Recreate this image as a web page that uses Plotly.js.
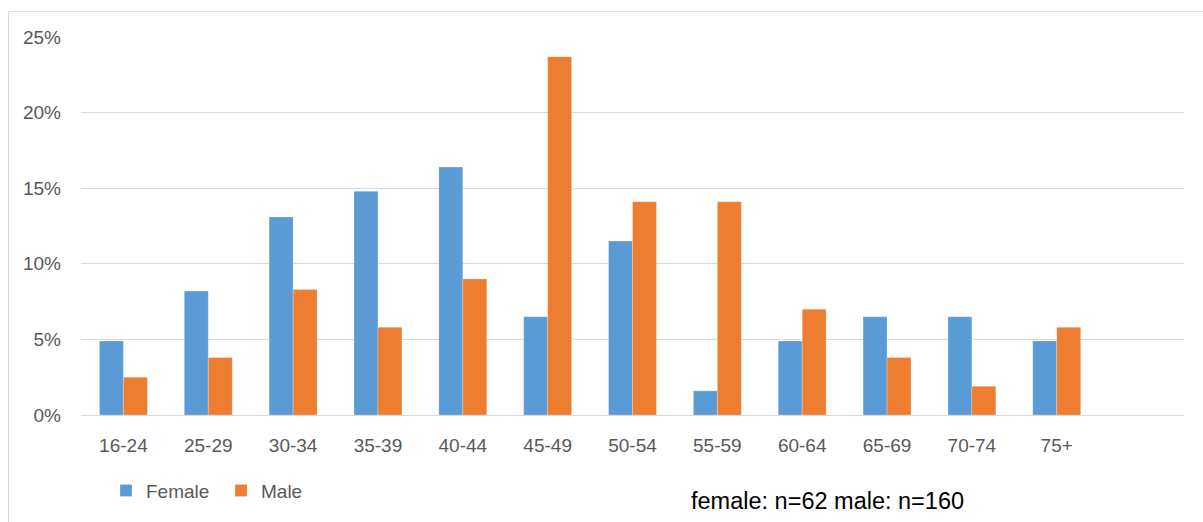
<!DOCTYPE html>
<html>
<head>
<meta charset="utf-8">
<script src="https://cdn.plot.ly/plotly-3.0.1.min.js"></script>
<style>
  html, body { margin: 0; padding: 0; background: #ffffff; }
  #chart { width: 1203px; height: 522px; }
</style>
</head>
<body>
<div id="chart"></div>
<script>
const categories = ["16-24", "25-29", "30-34", "35-39", "40-44", "45-49", "50-54", "55-59", "60-64", "65-69", "70-74", "75+"];
const femaleValues = [0.049, 0.082, 0.131, 0.148, 0.164, 0.065, 0.115, 0.016, 0.049, 0.065, 0.065, 0.049];
const maleValues   = [0.025, 0.038, 0.083, 0.058, 0.090, 0.237, 0.141, 0.141, 0.070, 0.038, 0.019, 0.058];
const yTickValues = [0, 0.05, 0.10, 0.15, 0.20, 0.25];
const noteText = "female: n=62 male: n=160";

const W = 1203, H = 522;
const M = { l: 81, r: 19, t: 37, b: 105 };
const pw = W - M.l - M.r, ph = H - M.t - M.b;
const px = x => (x - M.l) / pw;
const py = y => (H - M.b - y) / ph;

const FONT = "Liberation Sans, Arial, sans-serif";

const traces = [
  { type: "bar", name: "Female", x: categories, y: femaleValues,
    marker: { color: "#5B9BD5", line: { color: "rgba(255,255,255,0.5)", width: 0.5 } } },
  { type: "bar", name: "Male", x: categories, y: maleValues,
    marker: { color: "#ED7D31", line: { color: "rgba(255,255,255,0.5)", width: 0.5 } } }
];

const layout = {
  width: W, height: H,
  margin: M,
  paper_bgcolor: "#ffffff",
  plot_bgcolor: "#ffffff",
  font: { family: FONT, size: 19, color: "#595959" },
  barmode: "group",
  bargap: 0.435,
  bargroupgap: 0,
  showlegend: true,
  legend: {
    orientation: "h",
    x: px(106), xanchor: "left",
    y: py(493), yanchor: "middle",
    entrywidth: 70,
    entrywidthmode: "pixels",
    font: { family: FONT, size: 19, color: "#595959" },
    bgcolor: "rgba(0,0,0,0)",
    itemclick: false, itemdoubleclick: false
  },
  xaxis: {
    type: "category",
    range: [-0.5, 12.5],
    showgrid: false,
    showline: false,
    zeroline: false,
    ticks: "",
    ticklabelstandoff: 17,
    tickfont: { family: FONT, size: 19, color: "#595959" },
    fixedrange: true
  },
  yaxis: {
    range: [0, 0.25],
    tickvals: yTickValues,
    tickformat: ".0%",
    showgrid: true,
    gridcolor: "#d9d9d9",
    gridwidth: 1,
    zeroline: true,
    zerolinecolor: "#d9d9d9",
    zerolinewidth: 1,
    showline: false,
    ticks: "",
    ticklabelstandoff: 19,
    tickfont: { family: FONT, size: 19, color: "#595959" },
    fixedrange: true
  },
  annotations: [{
    text: noteText,
    xref: "paper", yref: "paper",
    x: px(827.5), y: py(503),
    xanchor: "center", yanchor: "middle",
    showarrow: false,
    font: { family: FONT, size: 23.5, color: "#000000" }
  }],
  shapes: [{
    type: "rect", xref: "paper", yref: "paper",
    x0: px(8.5), x1: px(1210), y0: py(530), y1: py(11.5),
    line: { color: "#d9d9d9", width: 1 },
    fillcolor: "rgba(0,0,0,0)",
    layer: "below"
  }]
};

Plotly.newPlot("chart", traces, layout, { displayModeBar: false, staticPlot: true });
</script>
</body>
</html>
